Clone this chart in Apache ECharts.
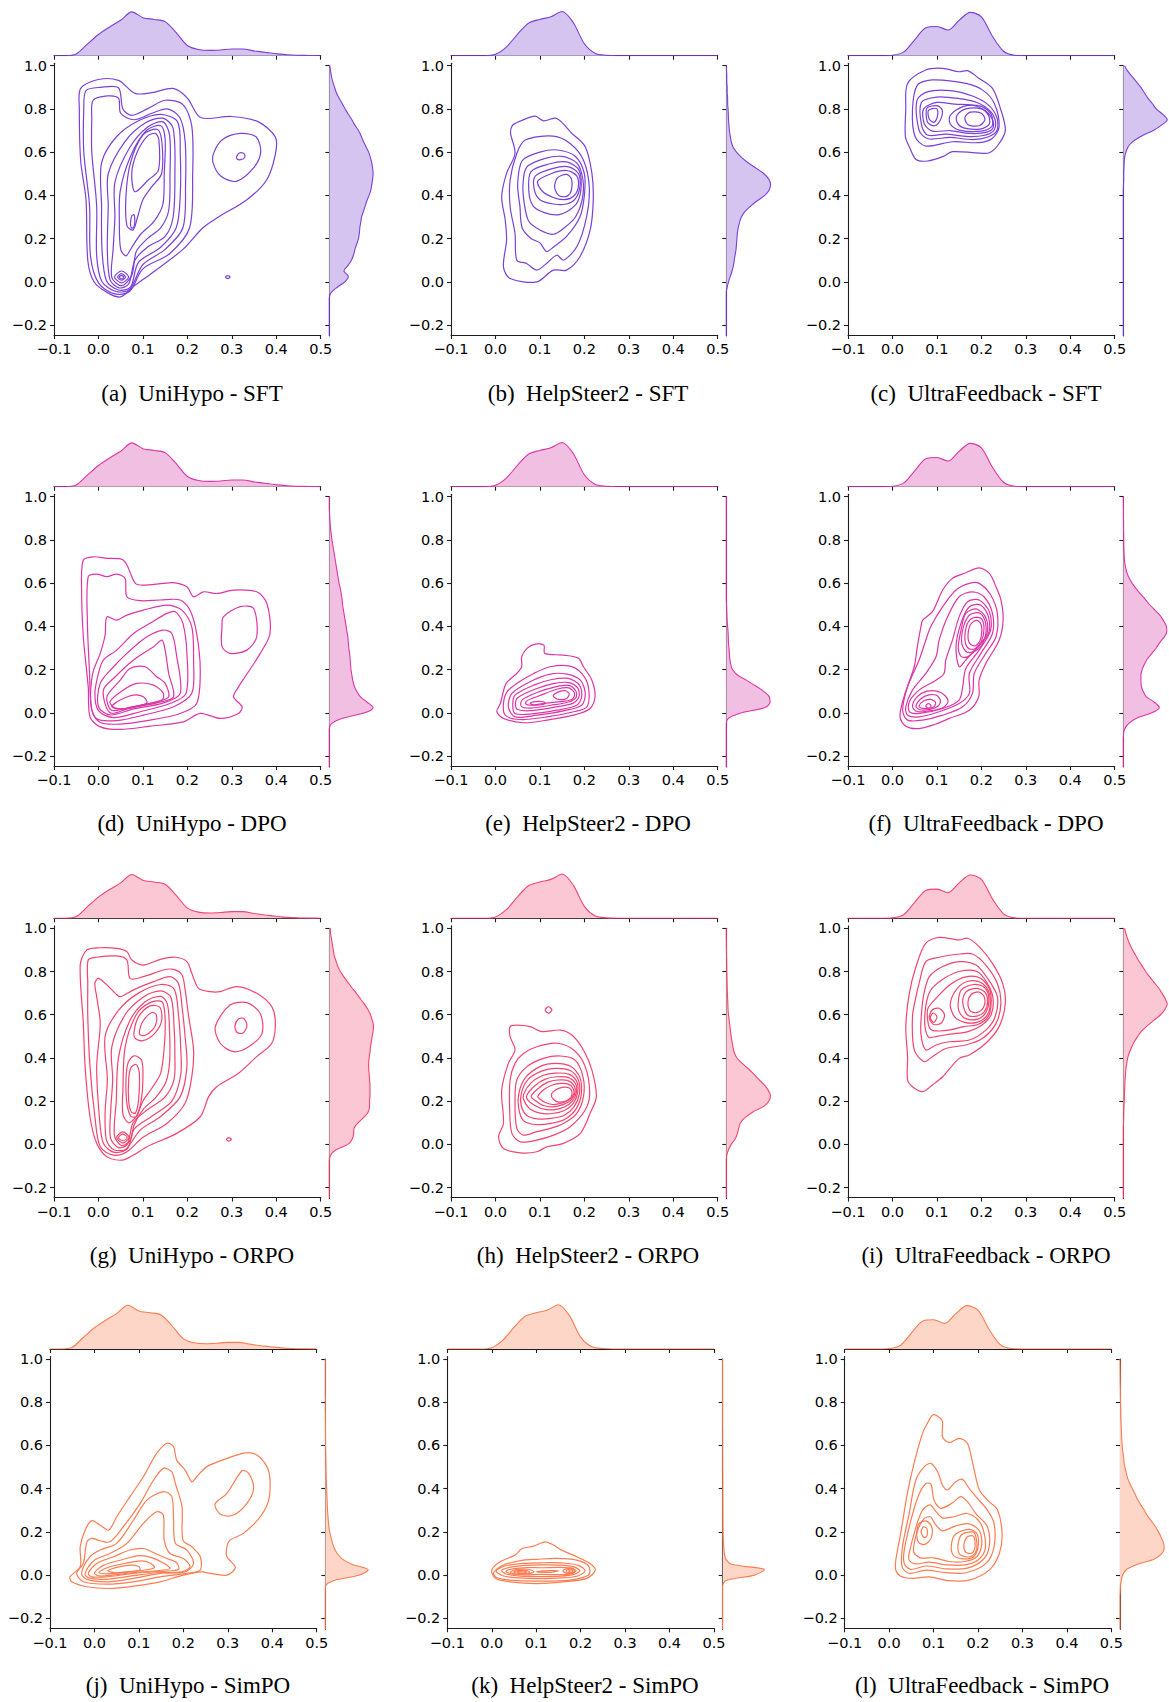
<!DOCTYPE html>
<html><head><meta charset="utf-8">
<script src="https://cdn.jsdelivr.net/npm/echarts@6/dist/echarts.min.js"></script>
<style>html,body{margin:0;padding:0;background:#fff}#c{width:1169px;height:1702px}</style>
</head><body><div id="c"></div>
<script>
// ---------- tick labels / grids ----------
const yTicks = [-0.2, 0, 0.2, 0.4, 0.6, 0.8, 1.0];
const margXGrid = [-0.1,-0.075,-0.05,-0.025,0,0.025,0.05,0.075,0.1,0.125,0.15,0.175,0.2,0.225,0.25,0.275,0.3,0.325,0.35,0.375,0.4,0.425,0.45,0.475,0.5];
const margYGrid = [-0.25,-0.225,-0.2,-0.175,-0.15,-0.125,-0.1,-0.075,-0.05,-0.025,0,0.025,0.05,0.075,0.1,0.125,0.15,0.175,0.2,0.225,0.25,0.275,0.3,0.325,0.35,0.375,0.4,0.425,0.45,0.475,0.5,0.525,0.55,0.575,0.6,0.625,0.65,0.675,0.7,0.725,0.75,0.775,0.8,0.825,0.85,0.875,0.9,0.925,0.95,0.975,1.0];

// ---------- captions ----------
const captionLetters = ['(a)','(b)','(c)','(d)','(e)','(f)','(g)','(h)','(i)','(j)','(k)','(l)'];
const datasets = ['UniHypo','HelpSteer2','UltraFeedback'];
const methods = ['SFT','DPO','ORPO','SimPO'];

// ---------- top marginal densities (x) ----------
const topUniHypo = [0,0,0.04,0.26,0.48,0.65,0.8,0.99,0.86,0.82,0.77,0.52,0.23,0.14,0.12,0.13,0.15,0.15,0.11,0.075,0.045,0.02,0.01,0.005,0];
const topHelpSteer2 = [0,0,0,0,0.03,0.2,0.49,0.74,0.82,0.88,1.0,0.75,0.27,0.05,0.01,0,0,0,0,0,0,0,0,0,0];
const topUltraFeedback = [0,0,0,0,0.01,0.08,0.36,0.63,0.66,0.58,0.8,0.98,0.88,0.44,0.1,0.01,0,0,0,0,0,0,0,0,0];

// ---------- right marginal densities (y, bottom -> top) ----------
const rightA = [0,0,0,0,0,0,0,0,0.04,0.18,0.35,0.43,0.33,0.42,0.5,0.55,0.58,0.62,0.66,0.68,0.69,0.71,0.73,0.77,0.81,0.85,0.9,0.94,0.96,0.98,0.99,0.98,0.96,0.93,0.89,0.83,0.77,0.72,0.66,0.58,0.51,0.43,0.36,0.29,0.22,0.16,0.12,0.08,0.05,0.03,0.01];
const rightB = [0,0,0,0,0,0,0,0,0,0.02,0.05,0.09,0.13,0.16,0.18,0.2,0.22,0.23,0.24,0.25,0.27,0.3,0.34,0.42,0.55,0.7,0.87,0.97,1.0,0.96,0.85,0.68,0.5,0.35,0.23,0.15,0.11,0.09,0.07,0.06,0.05,0.045,0.04,0.03,0.03,0.02,0.02,0.01,0.01,0.005,0];
const rightC = [0,0,0,0,0,0,0,0,0,0,0,0,0,0,0,0,0,0,0,0,0,0,0,0,0,0,0,0,0.005,0.01,0.01,0.015,0.02,0.03,0.06,0.11,0.22,0.42,0.68,0.87,1.0,0.9,0.75,0.66,0.56,0.48,0.4,0.3,0.2,0.1,0.03];
const rightD = [0,0,0,0,0,0,0,0,0.05,0.3,0.8,0.99,0.85,0.7,0.62,0.56,0.53,0.51,0.49,0.48,0.47,0.46,0.44,0.43,0.42,0.4,0.38,0.36,0.34,0.32,0.3,0.29,0.27,0.25,0.22,0.2,0.18,0.16,0.14,0.12,0.1,0.08,0.06,0.045,0.03,0.02,0.01,0.005,0,0,0];
const rightE = [0,0,0,0,0,0,0,0,0,0.05,0.35,0.88,0.99,0.97,0.84,0.66,0.46,0.25,0.14,0.1,0.08,0.07,0.06,0.05,0.045,0.04,0.03,0.02,0.015,0.01,0.005,0,0,0,0,0,0,0,0,0,0,0,0,0,0,0,0,0,0,0,0];
const rightF = [0,0,0,0,0,0,0.005,0.03,0.12,0.3,0.65,0.82,0.7,0.52,0.45,0.41,0.4,0.4,0.43,0.48,0.55,0.65,0.75,0.83,0.93,0.99,0.98,0.92,0.84,0.72,0.6,0.5,0.39,0.29,0.2,0.13,0.08,0.05,0.03,0.02,0.015,0.01,0.01,0.008,0.005,0.005,0.004,0.003,0.002,0.001,0];
const rightG = [0,0,0,0,0,0,0,0,0.03,0.15,0.42,0.52,0.55,0.56,0.65,0.78,0.88,0.91,0.91,0.92,0.92,0.92,0.91,0.9,0.89,0.89,0.9,0.92,0.93,0.95,0.97,0.99,1.0,0.97,0.93,0.87,0.79,0.7,0.61,0.51,0.42,0.33,0.25,0.19,0.15,0.11,0.09,0.07,0.05,0.03,0.02];
const rightH = [0,0,0,0,0,0,0,0,0.01,0.05,0.11,0.2,0.25,0.28,0.32,0.43,0.6,0.84,0.96,1.0,0.95,0.86,0.74,0.62,0.5,0.36,0.24,0.18,0.15,0.13,0.11,0.095,0.08,0.065,0.05,0.04,0.035,0.03,0.025,0.02,0.018,0.015,0.012,0.01,0.008,0.005,0.003,0.002,0.001,0,0];
const rightI = [0,0,0,0,0,0,0,0,0,0,0,0,0,0,0.005,0.008,0.01,0.015,0.02,0.025,0.03,0.035,0.04,0.05,0.06,0.08,0.1,0.14,0.19,0.25,0.33,0.42,0.55,0.7,0.85,0.95,1.0,0.95,0.88,0.8,0.7,0.6,0.51,0.43,0.35,0.28,0.21,0.15,0.1,0.06,0.03];
const rightJ = [0,0,0,0,0,0,0,0,0.01,0.2,0.78,0.97,0.6,0.38,0.27,0.2,0.16,0.13,0.1,0.08,0.07,0.06,0.05,0.045,0.04,0.035,0.03,0.025,0.02,0.018,0.015,0.012,0.01,0.008,0.006,0.005,0.004,0.003,0.003,0.002,0.002,0.001,0.001,0.001,0,0,0,0,0,0,0];
const rightK = [0,0,0,0,0,0,0,0,0,0.08,0.72,0.95,0.2,0.07,0.04,0.03,0.02,0.015,0.012,0.01,0.01,0.008,0.008,0.007,0.006,0.006,0.005,0.005,0.004,0.004,0.003,0.003,0.002,0.002,0.002,0.001,0.001,0.001,0,0,0,0,0,0,0,0,0,0,0,0,0];
const rightL = [0,0,0,0,0,0,0,0.005,0.01,0.03,0.06,0.14,0.4,0.78,0.95,1.0,0.98,0.93,0.87,0.8,0.71,0.62,0.55,0.47,0.4,0.34,0.28,0.22,0.17,0.14,0.11,0.09,0.08,0.06,0.05,0.04,0.035,0.03,0.025,0.02,0.018,0.015,0.012,0.01,0.008,0.006,0.004,0.003,0.002,0.001,0];

// ---------- contour lines (x, y) ----------
const contoursA = [
 [[-0.04,0.895],[0.0,0.936],[0.045,0.932],[0.082,0.872],[0.12,0.875],[0.168,0.895],[0.2,0.85],[0.23,0.76],[0.30,0.765],[0.36,0.74],[0.398,0.67],[0.398,0.59],[0.378,0.47],[0.334,0.38],[0.27,0.30],[0.235,0.25],[0.19,0.15],[0.12,0.04],[0.08,-0.02],[0.05,-0.07],[0.02,-0.05],[-0.01,0.0],[-0.024,0.1],[-0.028,0.38],[-0.04,0.56],[-0.043,0.8]],
 [[-0.028,0.885],[0.005,0.9],[0.045,0.898],[0.055,0.8],[0.075,0.77],[0.11,0.8],[0.15,0.84],[0.19,0.82],[0.21,0.72],[0.212,0.5],[0.205,0.25],[0.16,0.13],[0.1,0.06],[0.07,-0.045],[0.035,-0.055],[0.0,-0.005],[-0.018,0.12],[-0.02,0.35],[-0.033,0.6],[-0.033,0.8]],
 [[-0.012,0.84],[0.02,0.86],[0.045,0.85],[0.05,0.78],[0.08,0.75],[0.12,0.78],[0.155,0.8],[0.183,0.76],[0.195,0.65],[0.196,0.45],[0.19,0.25],[0.15,0.15],[0.1,0.08],[0.07,-0.035],[0.04,-0.045],[0.008,0.0],[-0.004,0.12],[-0.004,0.35],[-0.015,0.6],[-0.015,0.75]],
 [[0.007,0.55],[0.04,0.67],[0.09,0.745],[0.14,0.775],[0.178,0.74],[0.184,0.6],[0.184,0.4],[0.175,0.25],[0.14,0.16],[0.09,0.09],[0.072,-0.025],[0.045,-0.038],[0.018,0.005],[0.008,0.15],[0.007,0.35]],
 [[0.022,0.5],[0.06,0.65],[0.105,0.735],[0.145,0.757],[0.168,0.71],[0.172,0.5],[0.168,0.3],[0.15,0.21],[0.11,0.16],[0.082,0.1],[0.068,-0.01],[0.046,-0.028],[0.026,0.01],[0.02,0.15],[0.022,0.35]],
 [[0.037,0.46],[0.07,0.62],[0.11,0.715],[0.145,0.74],[0.16,0.68],[0.161,0.5],[0.158,0.33],[0.14,0.25],[0.11,0.2],[0.085,0.14],[0.075,0.03],[0.052,-0.018],[0.03,0.02],[0.033,0.15],[0.037,0.3]],
 [[0.049,0.42],[0.072,0.58],[0.108,0.7],[0.14,0.722],[0.15,0.66],[0.148,0.5],[0.145,0.36],[0.125,0.28],[0.095,0.22],[0.075,0.16],[0.062,0.12],[0.05,0.15],[0.047,0.28]],
 [[0.062,0.4],[0.072,0.55],[0.1,0.68],[0.133,0.705],[0.143,0.64],[0.142,0.5],[0.12,0.44],[0.1,0.38],[0.088,0.3],[0.078,0.24],[0.064,0.26]],
 [[0.082,0.417],[0.075,0.502],[0.086,0.595],[0.109,0.672],[0.128,0.687],[0.136,0.656],[0.135,0.517],[0.112,0.471]],
 [[0.072,0.27],[0.075,0.305],[0.08,0.31],[0.082,0.28],[0.079,0.25],[0.074,0.25]],
 [[0.036,0.022],[0.052,0.05],[0.068,0.022],[0.052,-0.005]],
 [[0.043,0.022],[0.052,0.038],[0.061,0.022],[0.052,0.008]],
 [[0.047,0.022],[0.052,0.03],[0.057,0.022],[0.052,0.014]],
 [[0.26,0.6],[0.28,0.66],[0.32,0.687],[0.355,0.67],[0.365,0.6],[0.35,0.53],[0.31,0.465],[0.275,0.49],[0.258,0.55]],
 [[0.311,0.58],[0.318,0.597],[0.328,0.592],[0.329,0.575],[0.32,0.565],[0.312,0.568]],
 [[0.286,0.022],[0.291,0.029],[0.296,0.022],[0.291,0.015]]
];
const contoursB = [
 [[0.0365,0.718],[0.044,0.733],[0.089,0.767],[0.108,0.745],[0.138,0.756],[0.172,0.687],[0.202,0.625],[0.217,0.502],[0.22,0.378],[0.213,0.239],[0.19,0.116],[0.16,0.054],[0.13,0.054],[0.093,0.0],[0.033,0.015],[0.018,0.069],[0.025,0.193],[0.022,0.285],[0.014,0.394],[0.025,0.502],[0.044,0.594],[0.034,0.687]],
 [[0.067,0.656],[0.13,0.674],[0.168,0.64],[0.198,0.563],[0.211,0.44],[0.205,0.301],[0.183,0.162],[0.153,0.1],[0.138,0.123],[0.115,0.085],[0.093,0.054],[0.07,0.085],[0.048,0.1],[0.044,0.224],[0.033,0.347],[0.033,0.471],[0.048,0.594]],
 [[0.06,0.56],[0.1,0.6],[0.14,0.61],[0.18,0.58],[0.2,0.5],[0.2,0.4],[0.19,0.3],[0.16,0.21],[0.13,0.16],[0.115,0.14],[0.1,0.18],[0.08,0.2],[0.06,0.25],[0.055,0.35],[0.05,0.45]],
 [[0.07,0.53],[0.11,0.57],[0.15,0.58],[0.183,0.55],[0.197,0.47],[0.195,0.38],[0.18,0.3],[0.155,0.25],[0.13,0.22],[0.1,0.24],[0.075,0.28],[0.065,0.36],[0.062,0.45]],
 [[0.08,0.51],[0.12,0.545],[0.16,0.555],[0.187,0.52],[0.193,0.45],[0.185,0.37],[0.165,0.33],[0.14,0.31],[0.11,0.32],[0.085,0.35],[0.075,0.42]],
 [[0.09,0.49],[0.13,0.525],[0.165,0.532],[0.187,0.5],[0.19,0.44],[0.18,0.385],[0.16,0.36],[0.13,0.36],[0.1,0.38],[0.087,0.43]],
 [[0.095,0.465],[0.125,0.5],[0.16,0.515],[0.183,0.49],[0.186,0.435],[0.175,0.395],[0.155,0.38],[0.13,0.39],[0.105,0.42]],
 [[0.133,0.44],[0.14,0.482],[0.16,0.497],[0.171,0.475],[0.17,0.418],[0.16,0.395],[0.142,0.4]]
];
const contoursC = [
 [[0.034,0.918],[0.075,0.98],[0.113,0.988],[0.15,0.972],[0.169,0.977],[0.195,0.941],[0.225,0.895],[0.244,0.795],[0.254,0.702],[0.24,0.64],[0.218,0.597],[0.188,0.597],[0.135,0.602],[0.113,0.579],[0.079,0.559],[0.053,0.566],[0.038,0.625],[0.029,0.671],[0.03,0.795]],
 [[0.056,0.91],[0.09,0.934],[0.165,0.918],[0.203,0.887],[0.229,0.826],[0.24,0.718],[0.225,0.664],[0.195,0.644],[0.135,0.648],[0.075,0.628],[0.051,0.671],[0.045,0.795]],
 [[0.055,0.84],[0.08,0.88],[0.13,0.885],[0.18,0.86],[0.215,0.82],[0.235,0.76],[0.235,0.7],[0.215,0.67],[0.18,0.658],[0.13,0.668],[0.08,0.662],[0.06,0.7]],
 [[0.065,0.83],[0.1,0.855],[0.15,0.848],[0.19,0.83],[0.22,0.79],[0.232,0.74],[0.228,0.7],[0.205,0.677],[0.17,0.672],[0.12,0.683],[0.08,0.678],[0.066,0.72]],
 [[0.07,0.8],[0.1,0.83],[0.14,0.822],[0.18,0.817],[0.21,0.79],[0.227,0.74],[0.224,0.705],[0.2,0.688],[0.165,0.688],[0.13,0.7],[0.09,0.697],[0.072,0.73]],
 [[0.078,0.805],[0.1,0.815],[0.112,0.795],[0.108,0.75],[0.095,0.722],[0.08,0.735],[0.076,0.77]],
 [[0.081,0.793],[0.099,0.802],[0.102,0.775],[0.094,0.738],[0.083,0.752]],
 [[0.13,0.77],[0.16,0.812],[0.2,0.812],[0.222,0.775],[0.224,0.72],[0.2,0.697],[0.15,0.702],[0.13,0.73]],
 [[0.145,0.77],[0.165,0.8],[0.2,0.8],[0.216,0.77],[0.218,0.73],[0.2,0.708],[0.16,0.712],[0.145,0.74]],
 [[0.163,0.76],[0.175,0.785],[0.2,0.78],[0.208,0.75],[0.195,0.722],[0.17,0.727]]
];
const contoursD = [
 [[-0.034,0.707],[-0.011,0.722],[0.019,0.715],[0.053,0.71],[0.064,0.684],[0.083,0.599],[0.101,0.591],[0.146,0.599],[0.169,0.602],[0.199,0.583],[0.214,0.537],[0.236,0.56],[0.266,0.552],[0.304,0.568],[0.356,0.56],[0.379,0.506],[0.386,0.367],[0.364,0.275],[0.33,0.167],[0.315,0.12],[0.304,0.074],[0.323,0.028],[0.315,-0.003],[0.274,-0.026],[0.229,-0.003],[0.191,-0.042],[0.116,-0.062],[0.049,-0.077],[0.004,-0.065],[-0.019,-0.019],[-0.023,0.12],[-0.034,0.352],[-0.038,0.583]],
 [[-0.023,0.63],[-0.004,0.642],[0.019,0.63],[0.041,0.642],[0.06,0.622],[0.064,0.537],[0.094,0.519],[0.139,0.522],[0.184,0.522],[0.206,0.475],[0.221,0.367],[0.229,0.198],[0.221,0.043],[0.184,-0.003],[0.116,-0.034],[0.049,-0.052],[0.004,-0.045],[-0.015,0.012],[-0.02,0.182],[-0.025,0.429]],
 [[0.019,0.444],[0.041,0.429],[0.064,0.452],[0.101,0.475],[0.154,0.498],[0.188,0.475],[0.21,0.398],[0.214,0.244],[0.21,0.09],[0.169,0.028],[0.101,-0.011],[0.041,-0.036],[-0.004,-0.028],[-0.017,0.043],[-0.013,0.182],[0.004,0.275],[0.015,0.36]],
 [[0.011,0.244],[0.041,0.29],[0.079,0.367],[0.116,0.414],[0.154,0.46],[0.173,0.468],[0.19,0.414],[0.199,0.275],[0.197,0.09],[0.161,0.043],[0.094,0.005],[0.034,-0.022],[0.0,0.01],[-0.008,0.09],[0.0,0.182]],
 [[0.004,0.136],[0.034,0.213],[0.064,0.275],[0.109,0.352],[0.146,0.383],[0.165,0.367],[0.175,0.275],[0.184,0.09],[0.146,0.046],[0.079,0.018],[0.026,-0.01],[0.0,0.028]],
 [[0.011,0.105],[0.038,0.167],[0.079,0.244],[0.124,0.306],[0.143,0.336],[0.15,0.29],[0.158,0.182],[0.169,0.074],[0.131,0.046],[0.071,0.022],[0.026,0.0]],
 [[0.019,0.074],[0.049,0.151],[0.071,0.205],[0.105,0.213],[0.131,0.167],[0.15,0.136],[0.158,0.074],[0.131,0.051],[0.079,0.029],[0.03,0.012]],
 [[0.026,0.051],[0.056,0.105],[0.086,0.136],[0.124,0.128],[0.146,0.09],[0.143,0.059],[0.094,0.035],[0.041,0.018]],
 [[0.03,0.028],[0.049,0.059],[0.079,0.082],[0.101,0.074],[0.109,0.046],[0.086,0.028],[0.056,0.018]],
 [[0.281,0.444],[0.319,0.491],[0.349,0.483],[0.356,0.352],[0.334,0.29],[0.296,0.275],[0.278,0.306],[0.278,0.398]]
];
const contoursE = [
 [[0.059,0.259],[0.071,0.298],[0.089,0.318],[0.109,0.313],[0.111,0.275],[0.153,0.267],[0.187,0.252],[0.198,0.213],[0.217,0.151],[0.224,0.074],[0.213,0.02],[0.176,-0.011],[0.116,-0.034],[0.063,-0.046],[0.018,-0.026],[0.003,0.005],[0.011,0.043],[0.024,0.136],[0.048,0.182],[0.059,0.213]],
 [[0.026,0.097],[0.048,0.136],[0.086,0.182],[0.123,0.213],[0.168,0.216],[0.194,0.182],[0.209,0.12],[0.206,0.028],[0.176,0.005],[0.116,-0.019],[0.056,-0.031],[0.022,-0.011],[0.018,0.043]],
 [[0.037,0.09],[0.078,0.144],[0.123,0.179],[0.161,0.179],[0.191,0.151],[0.202,0.09],[0.194,0.035],[0.153,0.009],[0.093,-0.011],[0.044,-0.019],[0.029,0.028]],
 [[0.044,0.082],[0.086,0.128],[0.127,0.154],[0.164,0.159],[0.189,0.128],[0.194,0.074],[0.183,0.035],[0.138,0.012],[0.078,-0.006],[0.044,-0.003],[0.039,0.035]],
 [[0.05,0.07],[0.09,0.11],[0.13,0.135],[0.165,0.14],[0.185,0.115],[0.188,0.075],[0.175,0.045],[0.13,0.025],[0.08,0.01],[0.05,0.015],[0.045,0.04]],
 [[0.06,0.06],[0.095,0.095],[0.135,0.12],[0.165,0.127],[0.181,0.1],[0.181,0.07],[0.165,0.05],[0.125,0.035],[0.08,0.022],[0.058,0.03]],
 [[0.07,0.055],[0.1,0.08],[0.14,0.11],[0.165,0.115],[0.178,0.09],[0.173,0.063],[0.15,0.053],[0.115,0.045],[0.08,0.035],[0.068,0.042]],
 [[0.078,0.044],[0.09,0.052],[0.108,0.051],[0.112,0.043],[0.1,0.036],[0.084,0.037]],
 [[0.13,0.078],[0.142,0.097],[0.158,0.102],[0.166,0.088],[0.16,0.066],[0.142,0.062]]
];
const contoursF = [
 [[0.068,0.429],[0.09,0.468],[0.113,0.568],[0.135,0.622],[0.165,0.648],[0.195,0.671],[0.218,0.645],[0.233,0.583],[0.244,0.522],[0.249,0.429],[0.24,0.336],[0.21,0.228],[0.195,0.151],[0.194,0.074],[0.173,0.012],[0.128,-0.026],[0.098,-0.052],[0.06,-0.073],[0.03,-0.062],[0.017,-0.019],[0.026,0.074],[0.049,0.213],[0.056,0.306],[0.064,0.398]],
 [[0.075,0.336],[0.086,0.398],[0.113,0.491],[0.143,0.568],[0.173,0.599],[0.195,0.599],[0.221,0.545],[0.236,0.46],[0.233,0.352],[0.21,0.275],[0.184,0.182],[0.18,0.09],[0.158,0.028],[0.113,-0.011],[0.068,-0.034],[0.034,-0.034],[0.023,0.012],[0.034,0.12],[0.06,0.244]],
 [[0.098,0.259],[0.105,0.336],[0.124,0.444],[0.15,0.537],[0.18,0.56],[0.206,0.537],[0.225,0.46],[0.225,0.367],[0.199,0.275],[0.173,0.182],[0.173,0.09],[0.15,0.043],[0.105,0.005],[0.06,-0.019],[0.034,-0.011],[0.03,0.028],[0.045,0.105],[0.075,0.182]],
 [[0.116,0.182],[0.12,0.244],[0.135,0.336],[0.15,0.444],[0.169,0.514],[0.195,0.522],[0.218,0.468],[0.221,0.383],[0.195,0.29],[0.165,0.205],[0.158,0.12],[0.15,0.059],[0.113,0.02],[0.06,-0.003],[0.038,0.005],[0.038,0.051],[0.06,0.105],[0.098,0.151]],
 [[0.15,0.213],[0.143,0.306],[0.154,0.414],[0.173,0.491],[0.199,0.498],[0.216,0.444],[0.216,0.367],[0.191,0.306],[0.165,0.244]],
 [[0.148,0.3],[0.155,0.39],[0.165,0.46],[0.19,0.48],[0.21,0.44],[0.213,0.37],[0.195,0.31],[0.17,0.26],[0.155,0.26]],
 [[0.156,0.32],[0.16,0.4],[0.175,0.455],[0.198,0.46],[0.21,0.41],[0.207,0.34],[0.19,0.29],[0.168,0.28]],
 [[0.163,0.34],[0.168,0.41],[0.182,0.44],[0.2,0.435],[0.206,0.39],[0.2,0.33],[0.185,0.295],[0.17,0.3]],
 [[0.17,0.36],[0.176,0.41],[0.19,0.428],[0.2,0.405],[0.198,0.34],[0.187,0.31],[0.174,0.32]],
 [[0.045,0.03],[0.056,0.075],[0.078,0.1],[0.1,0.1],[0.118,0.08],[0.125,0.05],[0.112,0.022],[0.08,0.008],[0.055,0.006]],
 [[0.053,0.03],[0.064,0.065],[0.082,0.083],[0.1,0.08],[0.108,0.055],[0.102,0.03],[0.085,0.016],[0.062,0.014]],
 [[0.06,0.032],[0.07,0.055],[0.086,0.062],[0.097,0.048],[0.093,0.027],[0.077,0.02],[0.064,0.022]],
 [[0.075,0.032],[0.081,0.043],[0.087,0.032],[0.081,0.021]]
];
const contoursG = [
 [[-0.041,0.83],[-0.026,0.9],[0.004,0.91],[0.041,0.907],[0.064,0.892],[0.075,0.853],[0.101,0.83],[0.139,0.856],[0.173,0.866],[0.199,0.846],[0.21,0.792],[0.225,0.722],[0.251,0.707],[0.274,0.707],[0.311,0.73],[0.356,0.699],[0.39,0.637],[0.398,0.56],[0.39,0.468],[0.356,0.406],[0.315,0.329],[0.266,0.267],[0.248,0.221],[0.229,0.128],[0.176,0.051],[0.109,-0.011],[0.079,-0.049],[0.053,-0.073],[0.019,-0.057],[-0.004,0.005],[-0.019,0.128],[-0.03,0.36],[-0.034,0.56]],
 [[-0.023,0.853],[-0.004,0.866],[0.041,0.872],[0.064,0.853],[0.071,0.768],[0.101,0.776],[0.146,0.807],[0.169,0.81],[0.188,0.784],[0.195,0.715],[0.203,0.591],[0.214,0.437],[0.21,0.313],[0.195,0.19],[0.154,0.097],[0.101,0.034],[0.064,-0.034],[0.034,-0.05],[0.004,-0.011],[-0.008,0.128],[-0.019,0.36],[-0.024,0.591],[-0.024,0.745]],
 [[-0.008,0.745],[0.0,0.768],[0.023,0.73],[0.038,0.699],[0.049,0.684],[0.079,0.715],[0.124,0.753],[0.161,0.776],[0.18,0.745],[0.188,0.637],[0.195,0.498],[0.199,0.36],[0.184,0.221],[0.139,0.128],[0.094,0.066],[0.06,-0.026],[0.034,-0.036],[0.011,0.005],[0.002,0.128],[-0.004,0.36],[0.004,0.56],[-0.004,0.684]],
 [[0.015,0.5],[0.045,0.62],[0.09,0.7],[0.14,0.74],[0.17,0.72],[0.18,0.6],[0.185,0.45],[0.185,0.32],[0.165,0.2],[0.12,0.13],[0.08,0.07],[0.065,-0.02],[0.035,-0.025],[0.018,0.02],[0.015,0.15],[0.02,0.3]],
 [[0.03,0.45],[0.06,0.6],[0.1,0.68],[0.14,0.71],[0.163,0.68],[0.17,0.55],[0.172,0.4],[0.17,0.3],[0.15,0.22],[0.11,0.16],[0.078,0.1],[0.065,0.0],[0.045,-0.015],[0.027,0.03],[0.028,0.17],[0.032,0.3]],
 [[0.045,0.4],[0.07,0.57],[0.105,0.66],[0.14,0.685],[0.155,0.65],[0.16,0.52],[0.16,0.38],[0.152,0.29],[0.13,0.22],[0.1,0.16],[0.08,0.09],[0.072,0.02],[0.052,-0.005],[0.036,0.04],[0.04,0.2]],
 [[0.055,0.25],[0.06,0.45],[0.085,0.6],[0.115,0.655],[0.143,0.66],[0.15,0.58],[0.148,0.45],[0.14,0.33],[0.12,0.26],[0.1,0.2],[0.085,0.13],[0.068,0.1],[0.055,0.14]],
 [[0.08,0.52],[0.09,0.59],[0.115,0.64],[0.138,0.635],[0.142,0.57],[0.125,0.51],[0.1,0.48],[0.083,0.49]],
 [[0.092,0.52],[0.1,0.57],[0.12,0.61],[0.13,0.6],[0.128,0.55],[0.11,0.51],[0.095,0.505]],
 [[0.062,0.3],[0.067,0.38],[0.08,0.41],[0.097,0.39],[0.1,0.3],[0.096,0.2],[0.086,0.13],[0.073,0.13],[0.064,0.19]],
 [[0.068,0.3],[0.073,0.355],[0.085,0.37],[0.092,0.33],[0.09,0.2],[0.083,0.145],[0.074,0.15],[0.068,0.2]],
 [[0.041,0.032],[0.055,0.058],[0.069,0.032],[0.055,0.006]],
 [[0.045,0.032],[0.055,0.048],[0.065,0.032],[0.055,0.016]],
 [[0.263,0.545],[0.296,0.645],[0.334,0.656],[0.364,0.606],[0.368,0.514],[0.338,0.452],[0.304,0.429],[0.274,0.468]],
 [[0.307,0.548],[0.315,0.58],[0.327,0.583],[0.334,0.548],[0.325,0.515],[0.312,0.518]],
 [[0.288,0.023],[0.293,0.031],[0.299,0.023],[0.293,0.015]]
];
const contoursH = [
 [[0.033,0.545],[0.048,0.552],[0.078,0.545],[0.104,0.522],[0.146,0.529],[0.172,0.506],[0.198,0.437],[0.217,0.344],[0.227,0.221],[0.213,0.144],[0.191,0.051],[0.153,0.005],[0.116,-0.011],[0.093,-0.034],[0.056,-0.039],[0.018,-0.019],[0.007,0.035],[0.018,0.097],[0.014,0.252],[0.029,0.375],[0.044,0.437],[0.033,0.499]],
 [[0.063,0.421],[0.093,0.452],[0.138,0.468],[0.176,0.437],[0.202,0.36],[0.212,0.236],[0.202,0.159],[0.168,0.082],[0.131,0.043],[0.093,0.02],[0.056,0.012],[0.037,0.051],[0.032,0.159],[0.033,0.298],[0.044,0.375]],
 [[0.048,0.298],[0.071,0.36],[0.108,0.398],[0.146,0.409],[0.179,0.39],[0.197,0.313],[0.198,0.221],[0.183,0.144],[0.153,0.097],[0.123,0.074],[0.093,0.059],[0.063,0.043],[0.048,0.074],[0.044,0.19]],
 [[0.053,0.24],[0.068,0.31],[0.1,0.36],[0.135,0.375],[0.17,0.36],[0.19,0.31],[0.193,0.23],[0.18,0.16],[0.155,0.115],[0.125,0.097],[0.09,0.092],[0.063,0.11],[0.052,0.17]],
 [[0.058,0.235],[0.073,0.3],[0.105,0.34],[0.135,0.352],[0.168,0.342],[0.186,0.3],[0.189,0.235],[0.177,0.175],[0.155,0.135],[0.125,0.12],[0.095,0.118],[0.07,0.135],[0.058,0.18]],
 [[0.063,0.23],[0.08,0.285],[0.108,0.32],[0.135,0.33],[0.165,0.325],[0.183,0.29],[0.185,0.24],[0.175,0.19],[0.155,0.157],[0.128,0.143],[0.1,0.145],[0.077,0.165],[0.065,0.2]],
 [[0.07,0.225],[0.088,0.27],[0.112,0.302],[0.138,0.313],[0.163,0.31],[0.18,0.282],[0.182,0.24],[0.173,0.2],[0.155,0.173],[0.13,0.16],[0.105,0.165],[0.085,0.185],[0.073,0.205]],
 [[0.08,0.222],[0.097,0.26],[0.118,0.288],[0.14,0.298],[0.162,0.296],[0.177,0.272],[0.179,0.238],[0.17,0.205],[0.153,0.185],[0.13,0.174],[0.108,0.18],[0.092,0.2]],
 [[0.095,0.222],[0.11,0.255],[0.128,0.275],[0.148,0.282],[0.165,0.278],[0.175,0.258],[0.176,0.232],[0.167,0.208],[0.15,0.192],[0.13,0.184],[0.112,0.194],[0.1,0.21]],
 [[0.126,0.232],[0.135,0.252],[0.15,0.264],[0.165,0.262],[0.172,0.245],[0.17,0.218],[0.158,0.2],[0.142,0.196],[0.13,0.21]],
 [[0.112,0.622],[0.119,0.637],[0.127,0.622],[0.119,0.607]]
];
const contoursI = [
 [[0.053,0.823],[0.075,0.931],[0.105,0.958],[0.15,0.946],[0.169,0.954],[0.195,0.915],[0.225,0.838],[0.248,0.745],[0.254,0.653],[0.24,0.545],[0.21,0.468],[0.173,0.414],[0.15,0.398],[0.113,0.313],[0.09,0.275],[0.068,0.244],[0.045,0.267],[0.034,0.298],[0.034,0.406],[0.03,0.545],[0.038,0.699]],
 [[0.06,0.745],[0.075,0.846],[0.105,0.866],[0.15,0.881],[0.18,0.881],[0.21,0.83],[0.236,0.745],[0.244,0.653],[0.233,0.56],[0.203,0.491],[0.165,0.46],[0.12,0.444],[0.09,0.406],[0.071,0.383],[0.049,0.437],[0.045,0.591],[0.053,0.684]],
 [[0.071,0.699],[0.083,0.776],[0.113,0.823],[0.15,0.846],[0.188,0.83],[0.214,0.768],[0.236,0.684],[0.231,0.591],[0.21,0.529],[0.173,0.483],[0.128,0.475],[0.098,0.46],[0.075,0.437],[0.064,0.514],[0.066,0.622]],
 [[0.075,0.64],[0.085,0.71],[0.11,0.76],[0.15,0.8],[0.19,0.8],[0.212,0.75],[0.226,0.68],[0.222,0.6],[0.2,0.55],[0.17,0.522],[0.13,0.51],[0.1,0.5],[0.082,0.495],[0.073,0.55]],
 [[0.08,0.63],[0.1,0.68],[0.13,0.74],[0.165,0.775],[0.197,0.77],[0.218,0.72],[0.222,0.65],[0.215,0.59],[0.192,0.555],[0.16,0.545],[0.13,0.53],[0.1,0.525],[0.085,0.535],[0.079,0.58]],
 [[0.13,0.65],[0.145,0.72],[0.17,0.755],[0.198,0.75],[0.216,0.71],[0.22,0.65],[0.212,0.595],[0.19,0.565],[0.162,0.565],[0.14,0.59]],
 [[0.148,0.66],[0.155,0.715],[0.183,0.74],[0.208,0.725],[0.217,0.67],[0.21,0.61],[0.192,0.58],[0.165,0.582],[0.15,0.615]],
 [[0.158,0.66],[0.165,0.705],[0.188,0.722],[0.208,0.705],[0.214,0.66],[0.207,0.615],[0.19,0.594],[0.168,0.6]],
 [[0.17,0.66],[0.178,0.695],[0.195,0.705],[0.207,0.68],[0.205,0.635],[0.19,0.61],[0.175,0.618]],
 [[0.085,0.586],[0.092,0.608],[0.1,0.59],[0.093,0.565]],
 [[0.083,0.585],[0.089,0.622],[0.105,0.63],[0.117,0.6],[0.11,0.562],[0.093,0.555]]
];
const contoursJ = [
 [[-0.055,-0.008],[-0.032,0.039],[-0.032,0.131],[-0.021,0.208],[-0.006,0.252],[0.013,0.231],[0.032,0.208],[0.05,0.27],[0.08,0.363],[0.11,0.455],[0.14,0.563],[0.163,0.61],[0.178,0.594],[0.185,0.532],[0.204,0.486],[0.219,0.432],[0.23,0.455],[0.253,0.502],[0.298,0.54],[0.339,0.566],[0.365,0.556],[0.388,0.502],[0.395,0.44],[0.392,0.347],[0.373,0.27],[0.335,0.193],[0.305,0.162],[0.298,0.131],[0.298,0.085],[0.317,0.035],[0.298,0.0],[0.26,0.008],[0.241,0.015],[0.2,0.0],[0.148,-0.031],[0.088,-0.051],[0.035,-0.062],[-0.017,-0.054],[-0.051,-0.031]],
 [[-0.04,0.008],[-0.025,0.054],[-0.017,0.154],[-0.006,0.17],[0.013,0.159],[0.035,0.154],[0.065,0.224],[0.103,0.332],[0.133,0.44],[0.155,0.494],[0.174,0.478],[0.182,0.424],[0.197,0.316],[0.199,0.162],[0.219,0.131],[0.238,0.085],[0.238,0.023],[0.208,0.008],[0.148,-0.008],[0.088,-0.031],[0.028,-0.042],[-0.025,-0.031]],
 [[-0.029,0.008],[-0.01,0.085],[0.013,0.116],[0.05,0.147],[0.088,0.255],[0.118,0.347],[0.155,0.386],[0.174,0.363],[0.178,0.255],[0.182,0.147],[0.208,0.116],[0.223,0.054],[0.204,0.015],[0.148,0.008],[0.088,-0.015],[0.028,-0.031],[-0.017,-0.02]],
 [[-0.021,0.008],[0.0,0.069],[0.035,0.1],[0.073,0.147],[0.11,0.239],[0.14,0.293],[0.155,0.278],[0.157,0.162],[0.17,0.1],[0.2,0.077],[0.215,0.039],[0.197,0.015],[0.14,0.011],[0.08,-0.005],[0.02,-0.02],[-0.014,-0.012]],
 [[-0.014,0.008],[0.005,0.054],[0.043,0.085],[0.08,0.116],[0.11,0.123],[0.137,0.1],[0.163,0.077],[0.185,0.057],[0.189,0.026],[0.148,0.017],[0.088,0.008],[0.028,-0.008],[-0.006,-0.008]],
 [[0.0,0.01],[0.02,0.045],[0.06,0.07],[0.1,0.09],[0.13,0.08],[0.16,0.05],[0.17,0.03],[0.14,0.02],[0.09,0.012],[0.04,0.0],[0.01,-0.004]],
 [[0.01,0.012],[0.03,0.035],[0.07,0.055],[0.105,0.066],[0.125,0.056],[0.135,0.035],[0.11,0.022],[0.07,0.015],[0.03,0.006]],
 [[0.03,0.02],[0.05,0.036],[0.08,0.046],[0.1,0.04],[0.102,0.024],[0.08,0.015],[0.05,0.01]],
 [[0.272,0.332],[0.298,0.378],[0.332,0.483],[0.347,0.471],[0.358,0.401],[0.343,0.332],[0.313,0.278],[0.287,0.278],[0.275,0.301]]
];
const contoursK = [
 [[0.0,0.023],[0.019,0.062],[0.053,0.093],[0.068,0.123],[0.094,0.134],[0.12,0.154],[0.139,0.139],[0.154,0.119],[0.191,0.085],[0.221,0.054],[0.233,0.023],[0.214,-0.015],[0.161,-0.031],[0.101,-0.039],[0.041,-0.031],[0.008,-0.015]],
 [[0.004,0.011],[0.026,0.046],[0.071,0.069],[0.101,0.073],[0.146,0.077],[0.191,0.069],[0.218,0.042],[0.218,0.0],[0.176,-0.023],[0.101,-0.028],[0.041,-0.023],[0.011,-0.011]],
 [[0.01,0.02],[0.03,0.042],[0.07,0.054],[0.11,0.057],[0.16,0.056],[0.195,0.045],[0.21,0.02],[0.195,-0.003],[0.16,-0.013],[0.11,-0.016],[0.06,-0.013],[0.025,-0.003]],
 [[0.022,0.02],[0.04,0.036],[0.075,0.045],[0.11,0.047],[0.155,0.046],[0.185,0.038],[0.198,0.02],[0.185,0.003],[0.155,-0.005],[0.11,-0.007],[0.065,-0.005],[0.035,0.004]],
 [[0.032,0.018],[0.05,0.03],[0.08,0.035],[0.11,0.034],[0.15,0.036],[0.178,0.033],[0.19,0.02],[0.178,0.006],[0.15,0.002],[0.11,0.003],[0.075,0.001],[0.045,0.005]],
 [[0.042,0.014],[0.055,0.025],[0.08,0.027],[0.095,0.016],[0.08,0.006],[0.055,0.005]],
 [[0.05,0.014],[0.06,0.021],[0.078,0.021],[0.085,0.014],[0.077,0.008],[0.06,0.008]],
 [[0.058,0.014],[0.065,0.018],[0.075,0.018],[0.078,0.014],[0.073,0.01],[0.064,0.01]],
 [[0.16,0.019],[0.168,0.029],[0.182,0.031],[0.186,0.019],[0.182,0.008],[0.168,0.009]],
 [[0.167,0.019],[0.172,0.026],[0.181,0.027],[0.183,0.019],[0.18,0.011],[0.172,0.012]],
 [[0.173,0.019],[0.177,0.024],[0.181,0.023],[0.181,0.015],[0.177,0.014]],
 [[0.1,0.016],[0.13,0.021],[0.15,0.02],[0.13,0.013]]
];
const contoursL = [
 [[0.015,0.069],[0.026,0.193],[0.041,0.378],[0.056,0.517],[0.075,0.656],[0.086,0.702],[0.098,0.741],[0.111,0.733],[0.12,0.71],[0.12,0.64],[0.135,0.613],[0.158,0.633],[0.176,0.61],[0.188,0.517],[0.203,0.394],[0.225,0.34],[0.244,0.301],[0.254,0.193],[0.248,0.1],[0.225,0.023],[0.18,-0.023],[0.135,-0.026],[0.09,-0.008],[0.053,-0.015],[0.026,-0.005],[0.015,0.023]],
 [[0.03,0.131],[0.045,0.285],[0.06,0.44],[0.079,0.502],[0.094,0.517],[0.109,0.478],[0.12,0.417],[0.131,0.394],[0.15,0.432],[0.165,0.443],[0.18,0.401],[0.195,0.363],[0.221,0.301],[0.236,0.239],[0.236,0.131],[0.218,0.054],[0.173,0.011],[0.128,0.011],[0.083,0.023],[0.045,0.008],[0.029,0.039]],
 [[0.034,0.116],[0.053,0.285],[0.068,0.378],[0.083,0.424],[0.094,0.421],[0.101,0.347],[0.116,0.309],[0.143,0.335],[0.161,0.363],[0.176,0.34],[0.195,0.285],[0.221,0.224],[0.225,0.131],[0.21,0.069],[0.173,0.031],[0.128,0.029],[0.083,0.042],[0.049,0.026],[0.034,0.054]],
 [[0.045,0.1],[0.06,0.22],[0.075,0.3],[0.092,0.325],[0.105,0.295],[0.12,0.265],[0.145,0.27],[0.175,0.285],[0.2,0.255],[0.213,0.2],[0.216,0.12],[0.2,0.07],[0.17,0.047],[0.13,0.047],[0.09,0.06],[0.06,0.052],[0.045,0.07]],
 [[0.055,0.11],[0.063,0.2],[0.078,0.26],[0.093,0.27],[0.104,0.235],[0.12,0.205],[0.15,0.228],[0.18,0.237],[0.203,0.205],[0.208,0.14],[0.197,0.085],[0.17,0.063],[0.135,0.063],[0.1,0.08],[0.07,0.08]],
 [[0.062,0.2],[0.068,0.24],[0.084,0.25],[0.096,0.222],[0.094,0.17],[0.08,0.142],[0.066,0.152]],
 [[0.072,0.2],[0.077,0.223],[0.085,0.215],[0.085,0.182],[0.078,0.174]],
 [[0.14,0.14],[0.15,0.19],[0.18,0.212],[0.198,0.19],[0.2,0.13],[0.19,0.085],[0.168,0.075],[0.145,0.09]],
 [[0.155,0.14],[0.163,0.187],[0.188,0.2],[0.195,0.178],[0.197,0.12],[0.187,0.088],[0.172,0.085],[0.158,0.098]],
 [[0.168,0.14],[0.175,0.175],[0.188,0.182],[0.193,0.158],[0.192,0.118],[0.184,0.1],[0.172,0.106]]
];

// ---------- panel table (built from the arrays above) ----------
const panelContours = [contoursA,contoursB,contoursC,contoursD,contoursE,contoursF,contoursG,contoursH,contoursI,contoursJ,contoursK,contoursL];
const panelTop = [topUniHypo,topHelpSteer2,topUltraFeedback];
const panelRight = [rightA,rightB,rightC,rightD,rightE,rightF,rightG,rightH,rightI,rightJ,rightK,rightL];

// ---------- layout & style ----------
const ROW_Y1 = [65.7, 496.7, 928.3, 1359];
const COL_L = [[54,451,848],[54,451,848],[54,451,848],[50,447.3,844.7]];
const CAP_X = [[192,588,986],[192,588,986],[192,588,986],[188,585,982]];
const CAP_Y = [393, 823, 1255, 1685];
const PXU = 216.1, PW = 266.7;
const ROW_LINE = ['#7b40d6','#dc36a6','#f1456f','#fa7d52'];
const ROW_FILL = ['#d4c4ef','#f1bfe2','#fbc7d5','#fdd6c8'];
const AX = '#1e1e1e';

const fmt = v => { const r = Math.round(v * 10) / 10; if (Math.abs(r) < 1e-9) return '0.0'; return (r < 0 ? '\u2212' : '') + Math.abs(r).toFixed(1); };
const labelStyle = { fontFamily: 'DejaVu Sans', fontSize: 14.5, color: '#000', margin: 7, formatter: fmt };

const option = { animation: false, backgroundColor: '#fff', grid: [], xAxis: [], yAxis: [], series: [], graphic: [] };

for (let i = 0; i < 12; i++) {
  const row = Math.floor(i / 3), col = i % 3;
  const L = COL_L[row][col], Y1 = ROW_Y1[row];
  const lc = ROW_LINE[row], fc = ROW_FILL[row];
  // joint grid
  const gj = option.grid.length;
  option.grid.push({ left: L, top: Y1 - 0.011 * PXU, width: PW, height: 1.257 * PXU });
  option.xAxis.push({ gridIndex: gj, type: 'value', min: -0.1, max: 0.5, interval: 0.1,
    axisLine: { show: true, onZero: false, lineStyle: { color: AX, width: 1.1 } },
    axisTick: { show: true, length: 4, lineStyle: { color: AX, width: 1.1 } },
    axisLabel: labelStyle, splitLine: { show: false } });
  option.yAxis.push({ gridIndex: gj, type: 'value', min: -0.246, max: 1.011,
    axisLine: { show: true, onZero: false, lineStyle: { color: AX, width: 1.1 } },
    axisTick: { show: true, length: 4, customValues: yTicks, lineStyle: { color: AX, width: 1.1 } },
    axisLabel: Object.assign({}, labelStyle, { customValues: yTicks }), splitLine: { show: false } });
  panelContours[i].forEach(pts => {
    option.series.push({ type: 'custom', xAxisIndex: gj, yAxisIndex: gj, silent: true, data: pts,
      renderItem: (params, api) => {
        if (params.dataIndex !== 0) return null;
        return { type: 'polygon', shape: { points: pts.map(p => api.coord(p)), smooth: 0.3 },
          style: { fill: 'none', stroke: lc, lineWidth: 1.2 } };
      } });
  });
  // top marginal
  const gt = option.grid.length;
  option.grid.push({ left: L, top: Y1 - 10 - 46, width: PW, height: 46 });
  option.xAxis.push({ gridIndex: gt, type: 'value', min: -0.1, max: 0.5, interval: 0.1,
    axisLine: { show: true, onZero: false, lineStyle: { color: AX, width: 1.1 } },
    axisTick: { show: true, length: 4, lineStyle: { color: AX, width: 1.1 } },
    axisLabel: { show: false }, splitLine: { show: false } });
  option.yAxis.push({ gridIndex: gt, type: 'value', min: 0, max: 1.04, show: false });
  const topArr = panelTop[col];
  option.series.push({ type: 'line', xAxisIndex: gt, yAxisIndex: gt, silent: true,
    data: margXGrid.map((x, k) => [x, topArr[k]]), smooth: 0.3, symbol: 'none',
    lineStyle: { color: lc, width: 1.1 }, areaStyle: { color: fc, opacity: 1 } });
  // right marginal
  const gr = option.grid.length;
  option.grid.push({ left: L + 275.3, top: Y1, width: 46, height: 1.25 * PXU });
  option.xAxis.push({ gridIndex: gr, type: 'value', min: 0, max: 1.04, show: false });
  option.yAxis.push({ gridIndex: gr, type: 'category', boundaryGap: false, data: margYGrid.map(String),
    axisLine: { show: true, lineStyle: { color: AX, width: 1.1 } },
    axisTick: { show: true, length: 4, lineStyle: { color: AX, width: 1.1 },
      interval: (idx, val) => yTicks.some(t => Math.abs(parseFloat(val) - t) < 1e-9) },
    axisLabel: { show: false }, splitLine: { show: false } });
  option.series.push({ type: 'line', xAxisIndex: gr, yAxisIndex: gr, silent: true,
    data: panelRight[i], smooth: 0.3, symbol: 'none',
    lineStyle: { color: lc, width: 1.1 }, areaStyle: { color: fc, opacity: 1 } });
  // caption
  option.graphic.push({ type: 'text', x: CAP_X[row][col], y: CAP_Y[row], silent: true,
    style: { text: captionLetters[i] + '\u00a0 ' + datasets[col] + ' - ' + methods[row],
      font: '23px "Liberation Serif"', fill: '#000', textAlign: 'center', textVerticalAlign: 'middle' } });
}

const chart = echarts.init(document.getElementById('c'), null, { renderer: 'svg', width: 1169, height: 1702 });
chart.setOption(option);
</script>
</body></html>
